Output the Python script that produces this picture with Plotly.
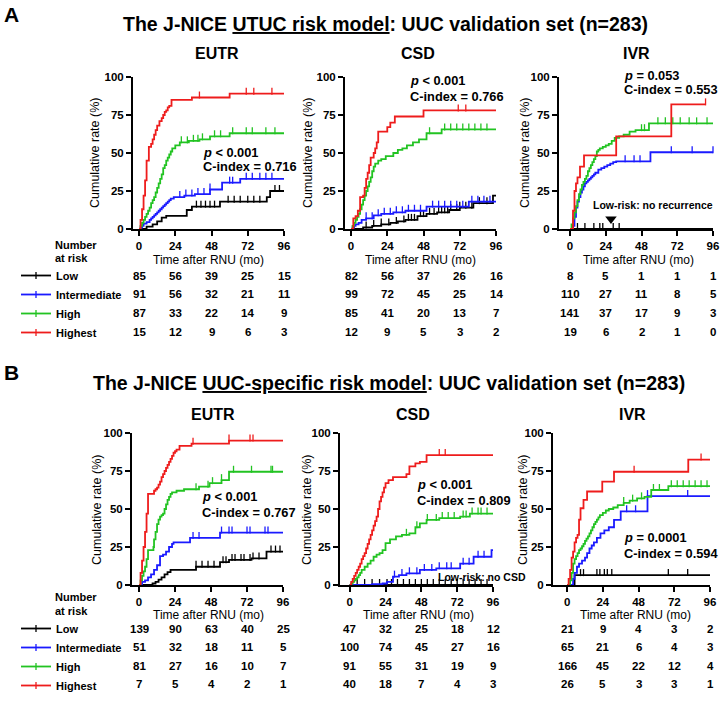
import numpy as np
import plotly.graph_objects as go

W, H = 721, 707
FONT = "Liberation Sans, Arial, sans-serif"

groups = ["Low", "Intermediate", "High", "Highest"]
group_colors = ["#000000", "#1a1aff", "#22c322", "#ee1c1c"]
x_ticks = [0, 24, 48, 72, 96]
y_ticks = [0, 25, 50, 75, 100]

# ---------------- Panel A : UTUC risk model ----------------
# EUTR
a_eutr_low_t = [0, 5, 9, 12, 15, 18, 31.6, 35, 53.6, 84.6, 86.8, 96]
a_eutr_low_y = [0, 1.5, 3, 5, 7.5, 8.6, 12.5, 14.7, 18, 21, 25, 25]
a_eutr_low_c = [38, 41, 44, 47, 50, 59, 63, 67, 72, 76, 80, 90, 93]
a_eutr_int_t = [0, 1, 2, 3, 5, 7, 8, 9, 10, 11, 12, 13, 14, 15, 16, 17, 18, 19, 20, 21, 23, 30, 37, 47, 55, 67, 96]
a_eutr_int_y = [0, 1, 2, 3.5, 4.5, 6, 7, 8, 9, 10, 11, 12, 13, 14, 15, 16, 17, 18, 19, 20, 21, 22, 23, 26, 30.5, 33, 33]
a_eutr_int_c = [27, 31, 35, 39, 43, 47, 60, 62, 71, 75, 80, 84, 88]
a_eutr_high_t = [0, 1, 2, 3, 4, 5, 6, 7, 8, 9, 10, 11, 12, 13, 14, 15, 16, 17, 18, 19, 20, 21, 22, 24, 27, 33, 40, 47, 60, 96]
a_eutr_high_y = [0, 2, 4, 6, 8, 10, 12, 14, 17, 19, 21, 24, 27, 30, 33, 36, 40, 42, 45, 47, 49, 51, 53, 55, 57, 58, 59, 61, 63, 63]
a_eutr_high_c = [28, 32, 36, 39, 42, 50, 54, 62, 71, 75, 84, 90]
a_eutr_top_t = [0, 1, 2, 3, 4, 5, 6.5, 8, 9, 10, 11, 12, 13.5, 15, 16, 17, 18, 19, 20, 21.5, 35, 60, 96]
a_eutr_top_y = [0, 6, 13, 22, 32, 45, 54, 56, 59, 62, 65, 68, 71, 73, 75, 77, 78, 80, 81, 85, 86.5, 89, 89]
a_eutr_top_c = [40, 71, 76, 88]
# CSD
a_csd_low_t = [0, 8, 14, 20, 26, 31, 36, 44, 50, 57, 65, 72, 81, 94, 96]
a_csd_low_y = [0, 1, 2, 3, 4, 5, 6, 8.5, 10, 11, 12.5, 14, 17, 22, 22]
a_csd_low_c = [10, 15, 20, 25, 30, 35, 38, 40, 42, 46, 48, 52, 55, 58, 60, 62, 64, 66, 70, 72, 76, 80, 85, 90]
a_csd_int_t = [0, 1, 2, 3, 5, 7, 10, 15, 20, 28, 36, 50, 78, 96]
a_csd_int_y = [0, 1, 2, 3, 4, 6, 7, 9, 10, 11, 12, 14.7, 18, 18]
a_csd_int_c = [10, 14, 18, 22, 26, 30, 34, 38, 42, 46, 54, 58, 62, 66, 70, 74, 80, 84, 88, 92]
a_csd_high_t = [0, 1, 2, 3, 4, 5, 6, 7, 8, 9, 10, 11, 12, 13, 14, 15, 16, 18, 20, 23, 28, 31, 34, 37, 41, 45, 50, 60, 96]
a_csd_high_y = [0, 2, 4, 6, 8, 10, 13, 16, 19, 22, 25, 28, 31, 34, 38, 41, 43, 45, 46, 48, 50, 52, 53, 55, 57, 59, 63, 65.5, 65.5]
a_csd_high_c = [52, 62, 66, 70, 74, 78, 82, 86, 90]
a_csd_top_t = [0, 1.5, 3, 4.5, 6, 8, 9, 10, 11, 12, 13, 15, 16, 17, 18, 22, 24, 26, 29, 48, 96]
a_csd_top_y = [0, 7, 8.5, 12, 21, 22, 27, 33, 37, 42, 47, 50, 53, 57, 64, 64, 67, 70, 74, 78, 78]
a_csd_top_c = [71, 76]
# IVR
a_ivr_low_t = [0, 96]
a_ivr_low_y = [0, 0]
a_ivr_low_c = [5, 10, 16, 20, 22, 29, 33]
a_ivr_int_t = [0, 2, 3, 4, 5, 6, 7, 8, 9, 10, 11, 12, 13, 14, 15, 16, 17, 19, 21, 23, 25, 27, 29, 31, 54, 96]
a_ivr_int_y = [0, 2, 8, 14, 18, 21, 24, 26, 28, 30, 31, 32, 33, 34, 35, 36, 37, 39, 40, 41, 42, 43, 44, 44.5, 50.5, 50.5]
a_ivr_int_c = [37, 43, 47, 68, 82, 96]
a_ivr_high_t = [0, 1, 2, 3, 4, 5, 6, 7, 8, 9, 10, 11, 12, 13, 14, 15, 16, 17, 18, 19, 20, 22, 24, 26, 28, 30, 33, 36, 40, 44, 53, 96]
a_ivr_high_y = [0, 3, 7, 11, 15, 19, 23, 26, 29, 31, 33, 35, 38, 40, 42, 44, 46, 48, 51, 52, 53, 54, 55, 56, 58, 60, 61, 62, 64, 65, 69.5, 69.5]
a_ivr_high_c = [48, 50, 59, 64, 69, 74, 80, 85, 92]
a_ivr_top_t = [0, 2, 3, 4, 5, 6.7, 9.4, 31, 68, 91]
a_ivr_top_y = [0, 12, 25, 30, 34, 41, 48.5, 61, 82, 82]
a_ivr_top_c = [91]

# ---------------- Panel B : UUC-specific risk model ----------------
# EUTR
b_eutr_low_t = [0, 9, 11, 13, 15, 17, 19, 21, 36, 38, 54, 60, 75, 85, 96]
b_eutr_low_y = [0, 1, 2, 3.5, 5, 7, 8.5, 10, 10, 12, 15, 16.5, 17.5, 22, 22]
b_eutr_low_c = [38, 42, 46, 50, 56, 58, 62, 64, 68, 70, 74, 76, 80, 88, 91, 94]
b_eutr_int_t = [0, 2, 4, 6, 8, 10, 12, 14, 16, 18, 20, 22, 23, 34, 54, 96]
b_eutr_int_y = [0, 2, 3, 5, 7, 10, 13, 19, 20, 22, 25, 27, 28, 31, 34.5, 34.5]
b_eutr_int_c = [36, 40, 55, 60, 62, 72, 74, 84, 86]
b_eutr_high_t = [0, 1, 2, 3, 4, 5, 6, 9.6, 10, 11, 12, 13, 14, 15, 16, 17, 18, 19, 20, 21, 22, 25, 30, 40, 47, 55, 60, 96]
b_eutr_high_y = [0, 3, 6, 9, 12, 17, 23, 25, 30, 35, 40, 43, 45, 46, 47, 50, 53, 56, 58, 60, 61, 62, 63, 64.7, 67, 69, 74.5, 74.5]
b_eutr_high_c = [38, 46, 49, 55, 63, 75, 88, 89]
b_eutr_top_t = [0, 1, 2, 3, 4, 5, 6, 10, 11, 12, 13, 14, 15, 16, 17, 18, 19, 20, 21, 22, 23, 24, 25, 27, 35, 60, 96]
b_eutr_top_y = [0, 8, 16, 25, 35, 47, 60, 62, 63, 64, 66, 68, 71, 73, 75, 77, 79, 81, 83, 85, 87, 88, 89, 91.5, 93, 95, 95]
b_eutr_top_c = [36, 60, 74, 76]
# CSD
b_csd_low_t = [0, 96]
b_csd_low_y = [0, 0]
b_csd_low_c = [5, 10, 15, 20, 25, 28, 32, 36, 40, 44, 48, 52, 56, 60, 64, 68, 72, 76, 80, 84, 88, 92]
b_csd_int_t = [0, 15, 22, 25, 29, 33, 38, 47, 58, 74, 83, 95, 96]
b_csd_int_y = [0, 0.5, 1, 2, 5.5, 6.5, 7.7, 9.9, 11, 14, 18.6, 23, 23]
b_csd_int_c = [30, 35, 40, 45, 50, 55, 60, 65, 68, 76, 80, 86, 90]
b_csd_high_t = [0, 1, 2, 3, 4, 5, 6, 7, 8, 10, 12, 14, 16, 18, 20, 22, 24, 27, 31, 35, 40, 44, 47, 51.5, 60, 74, 80.5, 96]
b_csd_high_y = [0, 1, 2, 3, 4, 5, 6.5, 8, 10, 12, 14, 16, 18.6, 20, 21, 23, 27.6, 30, 32, 33, 34, 38, 40.6, 42.8, 44, 45, 47, 47]
b_csd_high_c = [38, 45, 52, 58, 62, 66, 70, 76, 78, 82, 86, 88, 92]
b_csd_top_t = [0, 1, 2, 3, 4, 5, 6, 7, 8, 9, 10, 11, 12, 13, 14, 15, 16, 17, 18, 19, 20, 21, 22, 23, 24, 26, 29, 38, 40, 44, 47, 51.5, 96]
b_csd_top_y = [0, 2, 4, 6, 8, 10, 12, 14, 17, 19, 21, 24, 27, 30, 33, 36, 39, 42, 45, 50, 55, 58, 61, 64, 67, 69, 71, 73, 78, 80, 81, 85.5, 85.5]
b_csd_top_c = [60, 64]
# IVR
b_ivr_low_t = [0, 5, 96]
b_ivr_low_y = [0, 6.5, 6.5]
b_ivr_low_c = [9, 11, 20, 22, 25, 27, 30, 68, 81]
b_ivr_int_t = [0, 4, 5, 6.6, 8, 10, 12, 13.4, 15, 16.5, 18, 20, 22.4, 25, 28, 31.5, 36, 54, 96]
b_ivr_int_y = [0, 4, 8, 12, 14, 16, 18, 21, 24, 26, 28, 31, 34, 36, 38, 42.8, 48.5, 58.5, 58.5]
b_ivr_int_c = [40, 46, 54, 81]
b_ivr_high_t = [0, 2, 3, 4, 5, 6, 7, 8, 9, 10, 11, 12, 13, 14, 15, 16, 17, 18, 19, 20, 21, 22, 24, 26, 28, 31, 34, 38, 42, 47, 52, 56.5, 68, 96]
b_ivr_high_y = [0, 3, 8, 14, 17, 19, 21, 23, 24, 25.5, 27, 29, 30.5, 32, 34, 36, 38, 40, 41.5, 43, 44.5, 46, 47.5, 49, 50, 51, 52.5, 54, 55.5, 57, 58, 62.5, 65, 65]
b_ivr_high_c = [38, 44, 50, 58, 62, 70, 74, 78, 82, 86, 90, 94]
b_ivr_top_t = [0, 1, 2, 3, 4, 5, 6, 7, 8, 9, 11, 13.4, 23.6, 31.5, 81.4, 96]
b_ivr_top_y = [0, 4, 10, 18, 22, 28, 31, 33, 43, 50.5, 56, 61.5, 68, 74.5, 82.5, 82.5]
b_ivr_top_c = [45, 90]

# ---------------- Number at risk ----------------
a_eutr_risk = [[85, 56, 39, 25, 15], [91, 56, 32, 21, 11], [87, 33, 22, 14, 9], [15, 12, 9, 6, 3]]
a_csd_risk = [[82, 56, 37, 26, 16], [99, 72, 45, 25, 14], [85, 41, 20, 13, 7], [12, 9, 5, 3, 2]]
a_ivr_risk = [[8, 5, 1, 1, 1], [110, 27, 11, 8, 5], [141, 37, 17, 9, 3], [19, 6, 2, 1, 0]]
b_eutr_risk = [[139, 90, 63, 40, 25], [51, 32, 18, 11, 5], [81, 27, 16, 10, 7], [7, 5, 4, 2, 1]]
b_csd_risk = [[47, 32, 25, 18, 12], [100, 74, 45, 27, 16], [91, 55, 31, 19, 9], [40, 18, 7, 4, 3]]
b_ivr_risk = [[21, 9, 4, 3, 2], [65, 21, 6, 4, 3], [166, 45, 22, 12, 4], [26, 5, 3, 3, 1]]

stats_text = [("&lt; 0.001", "0.716"), ("&lt; 0.001", "0.766"), ("= 0.053", "0.553"),
              ("&lt; 0.001", "0.767"), ("&lt; 0.001", "0.809"), ("= 0.0001", "0.594")]
endpoints = ["EUTR", "CSD", "IVR"]

# ---------------- assemble ----------------
panels = [
    [(a_eutr_low_t, a_eutr_low_y, a_eutr_low_c), (a_eutr_int_t, a_eutr_int_y, a_eutr_int_c),
     (a_eutr_high_t, a_eutr_high_y, a_eutr_high_c), (a_eutr_top_t, a_eutr_top_y, a_eutr_top_c)],
    [(a_csd_low_t, a_csd_low_y, a_csd_low_c), (a_csd_int_t, a_csd_int_y, a_csd_int_c),
     (a_csd_high_t, a_csd_high_y, a_csd_high_c), (a_csd_top_t, a_csd_top_y, a_csd_top_c)],
    [(a_ivr_low_t, a_ivr_low_y, a_ivr_low_c), (a_ivr_int_t, a_ivr_int_y, a_ivr_int_c),
     (a_ivr_high_t, a_ivr_high_y, a_ivr_high_c), (a_ivr_top_t, a_ivr_top_y, a_ivr_top_c)],
    [(b_eutr_low_t, b_eutr_low_y, b_eutr_low_c), (b_eutr_int_t, b_eutr_int_y, b_eutr_int_c),
     (b_eutr_high_t, b_eutr_high_y, b_eutr_high_c), (b_eutr_top_t, b_eutr_top_y, b_eutr_top_c)],
    [(b_csd_low_t, b_csd_low_y, b_csd_low_c), (b_csd_int_t, b_csd_int_y, b_csd_int_c),
     (b_csd_high_t, b_csd_high_y, b_csd_high_c), (b_csd_top_t, b_csd_top_y, b_csd_top_c)],
    [(b_ivr_low_t, b_ivr_low_y, b_ivr_low_c), (b_ivr_int_t, b_ivr_int_y, b_ivr_int_c),
     (b_ivr_high_t, b_ivr_high_y, b_ivr_high_c), (b_ivr_top_t, b_ivr_top_y, b_ivr_top_c)],
]
risks = [a_eutr_risk, a_csd_risk, a_ivr_risk, b_eutr_risk, b_csd_risk, b_ivr_risk]

# layout geometry (pixels)
x_dom_px = [(133, 284), (345, 496), (559, 713), (132, 283), (340, 493), (553, 710)]
x_min = [-4, -4, -7.4, -4.7, -6.5, -9.5]
y_dom_px = [(77, 229), (77, 229), (77, 229), (433, 585), (433, 585), (433, 585)]
sub_title_px = [(217, 54), (418, 54), (636, 54), (213, 415), (413, 415), (632, 415)]
ytitle_px = [(95, 153), (308, 153), (525, 153), (97, 510), (307, 510), (523, 510)]
xtitle_px = [(208, 260), (420, 260), (638, 260), (208, 615), (418, 615), (635, 615)]
stats_px = [(201, 152, 166), (408, 80, 96), (622, 75, 90), (200, 497, 512), (415, 484, 500), (622, 537, 553)]
row_px = [[276, 294, 313, 332]] * 3 + [[629, 647, 666, 684]] * 3
tick_px = 5          # censor tick height in pixels (drawn upward from the curve)
plot_h_px = 152


def fx(p):
    return p / W


def fy(p):
    return 1 - p / H


def step_at(times, vals, q):
    idx = np.searchsorted(np.asarray(times, float), np.asarray(q, float), side="right") - 1
    return np.asarray(vals, float)[idx]


def note(text, x, y, size, xanchor="center", xref="paper", yref="paper", **kw):
    return dict(text=text, x=x, y=y, xref=xref, yref=yref, xanchor=xanchor, yanchor="middle",
                showarrow=False, font=dict(family=FONT, size=size, color="black"), **kw)


fig = go.Figure()
annotations = []
axis_font = dict(family=FONT, size=11.5, color="black", weight="bold")
lift = (tick_px / 2) / plot_h_px * 100  # shift so that censor tick sits on top of the curve

for i, curves in enumerate(panels):
    xa = "x" if i == 0 else f"x{i + 1}"
    ya = "y" if i == 0 else f"y{i + 1}"
    for g, (t, v, c) in enumerate(curves):
        col = group_colors[g]
        fig.add_trace(go.Scatter(x=t, y=v, mode="lines", line=dict(color=col, width=1.8, shape="hv"),
                                 xaxis=xa, yaxis=ya, showlegend=False, hoverinfo="skip"))
        fig.add_trace(go.Scatter(x=c, y=step_at(t, v, c) + lift, mode="markers",
                                 marker=dict(symbol="line-ns", size=tick_px, line=dict(width=1.3, color=col)),
                                 xaxis=xa, yaxis=ya, showlegend=False, cliponaxis=False, hoverinfo="skip"))
    # axes
    x0, x1 = x_dom_px[i]
    y0, y1 = y_dom_px[i]
    fig.layout[("xaxis" if i == 0 else f"xaxis{i + 1}")] = dict(
        domain=[fx(x0), fx(x1)], range=[x_min[i], 96], anchor=ya, tickvals=x_ticks,
        ticks="outside", ticklen=5, tickwidth=2, tickcolor="black", showline=True, linewidth=2,
        linecolor="black", showgrid=False, zeroline=False, tickfont=axis_font, fixedrange=True)
    fig.layout[("yaxis" if i == 0 else f"yaxis{i + 1}")] = dict(
        domain=[fy(y1), fy(y0)], range=[0, 100], anchor=xa, tickvals=y_ticks,
        ticks="outside", ticklen=5, tickwidth=2, tickcolor="black", showline=True, linewidth=2,
        linecolor="black", showgrid=False, zeroline=False, tickfont=axis_font, fixedrange=True)
    # texts
    sx, sy = sub_title_px[i]
    annotations.append(note(f"<b>{endpoints[i % 3]}</b>", fx(sx), fy(sy), 16))
    tx, ty = ytitle_px[i]
    annotations.append(note("Cumulative rate (%)", fx(tx), fy(ty), 12.5, textangle=-90))
    tx, ty = xtitle_px[i]
    annotations.append(note("Time after RNU (mo)", fx(tx), fy(ty), 12))
    px_, p1, p2 = stats_px[i]
    ptxt, ctxt = stats_text[i]
    annotations.append(note(f"<b><i>p</i> {ptxt}</b>", fx(px_), fy(p1), 12.8, xanchor="left"))
    annotations.append(note(f"<b>C-index = {ctxt}</b>", fx(px_), fy(p2), 12.8, xanchor="left"))
    # number at risk
    for g, row in enumerate(risks[i]):
        for m, n in zip(x_ticks, row):
            annotations.append(note(f"<b>{n}</b>", m, fy(row_px[i][g]), 11.5, xref=xa))

# low-risk notes
fig.add_trace(go.Scatter(x=[27.5], y=[6.5], mode="markers", xaxis="x3", yaxis="y3",
                         marker=dict(symbol="triangle-down", size=10, color="black"),
                         showlegend=False, cliponaxis=False, hoverinfo="skip"))
annotations.append(note("<b>Low-risk: no recurrence</b>", 56, 15.5, 10.5, xref="x3", yref="y3"))
annotations.append(note("<b>Low-risk: no CSD</b>", 88.5, 5.3, 10.5, xref="x5", yref="y5"))

# legends (one per panel block)
for lg in ["legend", "legend2"]:
    for g, name in enumerate(groups):
        fig.add_trace(go.Scatter(x=[None], y=[None], mode="lines+markers", name=name, legend=lg,
                                 line=dict(color=group_colors[g], width=1.8),
                                 marker=dict(symbol="line-ns", size=tick_px, line=dict(width=1.3, color=group_colors[g])),
                                 xaxis="x", yaxis="y", hoverinfo="skip"))

legend_style = dict(font=dict(family=FONT, size=11, color="black", weight="bold"), bgcolor="rgba(0,0,0,0)",
                    borderwidth=0, xanchor="left", yanchor="top", tracegroupgap=0, itemclick=False)

# headers
annotations.append(note("<b>A</b>", fx(11), fy(15), 21))
annotations.append(note("<b>B</b>", fx(11), fy(372), 21))
annotations.append(note("<b>The J-NICE <u>UTUC risk model</u>: UUC validation set (n=283)</b>",
                        fx(385), fy(24), 19.5))
annotations.append(note("<b>The J-NICE <u>UUC-specific risk model</u>: UUC validation set (n=283)</b>",
                        fx(389), fy(383), 19.5))
for (ny, ry) in [(245, 258), (597, 611)]:
    annotations.append(note("<b>Number</b>", fx(53), fy(ny), 11, xanchor="left"))
    annotations.append(note("<b>at risk</b>", fx(53), fy(ry), 11, xanchor="left"))

fig.update_layout(
    width=W, height=H, margin=dict(l=0, r=0, t=0, b=0, pad=0, autoexpand=False), autosize=False,
    paper_bgcolor="white", plot_bgcolor="white", annotations=annotations,
    legend=dict(x=fx(16), y=fy(261), **legend_style),
    legend2=dict(x=fx(16), y=fy(614), **legend_style),
    hovermode=False,
)

fig.write_html("out.html", config={"displayModeBar": False},
               post_script="document.body.style.margin='0px';")
